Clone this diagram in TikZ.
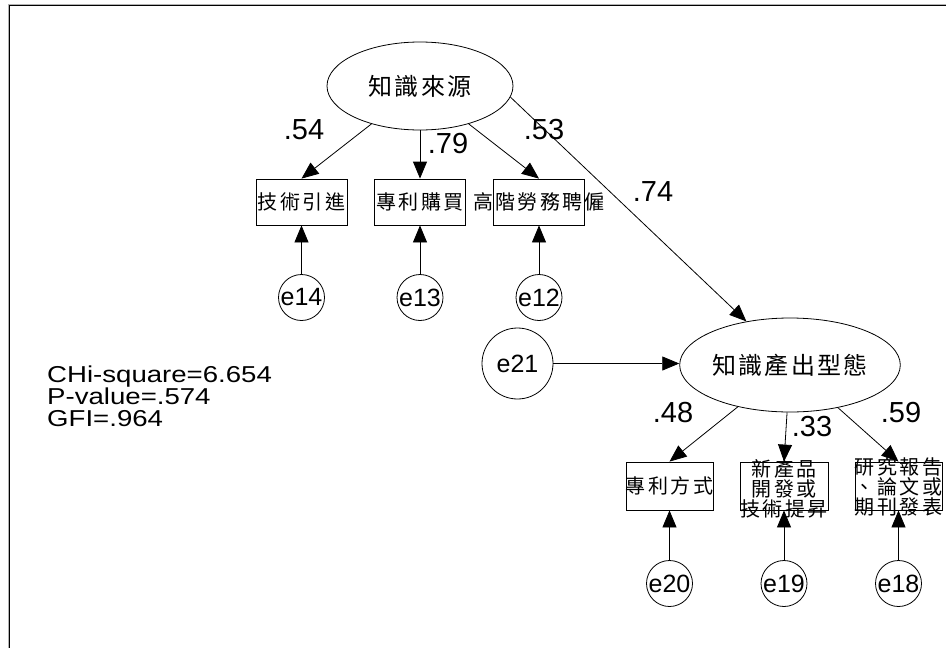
\documentclass[tikz,border=0pt]{standalone}
\usepackage{fontspec}
\usetikzlibrary{arrows.meta,shapes.geometric}
\setmainfont{Liberation Sans}
\newfontfamily\cjkhead[LetterSpace=10]{Noto Sans CJK TC}
\newfontfamily\cjkbox[LetterSpace=12]{Noto Sans CJK TC}
\newfontfamily\statfont[FakeStretch=1.2]{Liberation Sans}
\begin{document}
\begin{tikzpicture}[x=1pt,y=-1pt,
  latent/.style={draw,ellipse,minimum width=186pt,inner sep=0pt,line width=0.8pt,font=\cjkhead\fontsize{24}{26}\selectfont},
  obsbox/.style={draw,rectangle,inner sep=0pt,line width=0.8pt},
  boxtext/.style={inner sep=0pt,align=center,font=\cjkbox\fontsize{20}{20}\selectfont},
  err/.style={draw,circle,minimum size=46pt,inner sep=0pt,line width=0.8pt,font=\fontsize{25}{25}\selectfont},
  coef/.style={inner sep=0pt,font=\fontsize{29}{29}\selectfont},
  stat/.style={inner sep=0pt,anchor=north west,align=left,font=\statfont\fontsize{23}{22}\selectfont},
  arr/.style={draw,line width=0.8pt,-{Triangle[length=17pt,width=14pt]}},
]
\useasboundingbox (0,0) rectangle (946,648);
% frame
\draw[gray!60,line width=2.6pt] (9,648) -- (9,5) -- (946,5);
\draw[black,line width=1.3pt] (9.5,648) -- (9.5,5.5) -- (946,5.5);

% latent variables
\node[latent,minimum height=88pt] (F1) at (420,86) {知識來源};
\node[latent,minimum height=94pt] (F2) at (790,365) {知識產出型態};

% observed boxes row 1
\node[obsbox,minimum width=91pt,minimum height=46pt] (x1) at (301.5,202) {};
\node[obsbox,minimum width=91pt,minimum height=46pt] (x2) at (420,202) {};
\node[obsbox,minimum width=91pt,minimum height=46pt] (x3) at (539,202) {};
\node[boxtext] (t1) at (301.5,202) {技術引進};
\node[boxtext] (t2) at (420,202) {專利購買};
\node[boxtext] (t3) at (539,202) {高階勞務聘僱};

% observed boxes row 2
\node[obsbox,minimum width=87pt,minimum height=48pt] (y1) at (669.5,486) {};
\node[obsbox,minimum width=88pt,minimum height=48pt] (y2) at (784,486) {};
\node[obsbox,minimum width=87pt,minimum height=48pt] (y3) at (898.5,486) {};
\node[boxtext] (u1) at (669.5,486) {專利方式};
\node[boxtext] (u2) at (784,488.5) {新產品\\開發或\\技術提昇};
\node[boxtext] (u3) at (898.5,487) {研究報告\\、論文或\\期刊發表};

% error terms
\node[err] (e14) at (301.5,297.5) {e14};
\node[err] (e13) at (420,297.5) {e13};
\node[err] (e12) at (539,297.5) {e12};
\node[err] (e20) at (669.5,583.5) {e20};
\node[err] (e19) at (784,583.5) {e19};
\node[err] (e18) at (898.5,583.5) {e18};
\node[err,minimum size=71pt] (e21) at (517.5,363.5) {e21};

% paths
\path[arr] (F1) -- (x1.north);
\path[arr] (F1) -- (x2.north);
\path[arr] (F1) -- (x3.north);
\path[arr] (F1.-7) -- (F2.135);
\path[arr] (e21) -- (F2.west|-e21);
\path[arr] (F2) -- (y1.north);
\path[arr] (F2) -- (y2.north);
\path[arr] (F2) -- (y3.north);
\path[arr] (e14) -- (x1.south);
\path[arr] (e13) -- (x2.south);
\path[arr] (e12) -- (x3.south);
\path[arr] (e20) -- (y1.south);
\path[arr] (e19) -- (y2.south);
\path[arr] (e18) -- (y3.south);

% coefficients
\node[coef] (c1) at (304,130) {.54};
\node[coef] (c2) at (448,144) {.79};
\node[coef] (c3) at (544,130) {.53};
\node[coef] (c4) at (653,192) {.74};
\node[coef] (c5) at (673,413) {.48};
\node[coef] (c6) at (812,427) {.33};
\node[coef] (c7) at (901,413) {.59};

% fit statistics
\node[stat] (stats) at (47,366) {CHi-square=6.654\\P-value=.574\\GFI=.964};
\end{tikzpicture}
\end{document}
